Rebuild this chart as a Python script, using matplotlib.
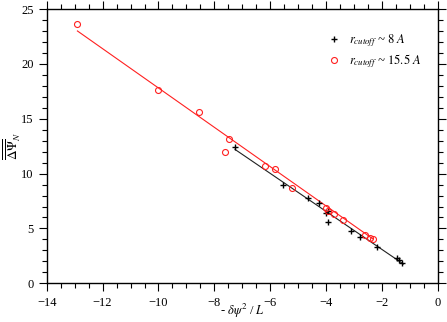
import matplotlib
matplotlib.use("Agg")
import matplotlib.pyplot as plt
from matplotlib.ticker import MultipleLocator

plt.rcParams['font.family'] = ['Liberation Serif', 'DejaVu Serif']
plt.rcParams['mathtext.fontset'] = 'stix'

# Data: r_cutoff ~ 8 A (black crosses)
black_x = [-7.25, -5.53, -4.66, -4.26, -4.01, -3.95, -3.92, -3.10, -2.78, -2.17, -1.46, -1.40, -1.28]
black_y = [12.45, 8.99, 7.75, 7.30, 6.40, 6.55, 5.60, 4.81, 4.25, 3.29, 2.28, 2.15, 1.88]
# Data: r_cutoff ~ 15.5 A (red circles)
red_x = [-12.91, -10.00, -8.56, -7.48, -7.62, -6.20, -5.83, -5.24, -4.01, -3.95, -3.71, -3.41, -2.60, -2.43, -2.31]
red_y = [23.63, 17.59, 15.58, 13.18, 11.97, 10.72, 10.39, 8.66, 6.83, 6.62, 6.29, 5.80, 4.40, 4.13, 4.07]
# Linear fit lines (endpoints)
black_fit_x = [-7.26, -1.24]
black_fit_y = [12.20, 1.76]
red_fit_x = [-12.90, -2.33]
red_fit_y = [23.00, 4.05]

labels = [r'$r_{cutoff}$ ~ $8\ A$', r'$r_{cutoff}$ ~ $15.5\ A$']

fig = plt.figure(figsize=(4.47, 3.22), dpi=100)
ax = fig.add_axes([0.1044, 0.1201, 0.8755, 0.8519])

ax.plot(red_fit_x, red_fit_y, color='#ff2020', lw=0.8)
ax.plot(black_fit_x, black_fit_y, color='#202020', lw=0.8)
ax.plot(black_x, black_y, ls='none', marker='+', ms=5, mew=1.0, color='black', label=labels[0])
ax.plot(red_x, red_y, ls='none', marker='o', ms=4.3, mew=0.8, mfc='none', mec='#ff2020', label=labels[1])

ax.set_xlim(-14, 0)
ax.set_ylim(0, 25)
ax.xaxis.set_major_locator(MultipleLocator(2))
ax.xaxis.set_minor_locator(MultipleLocator(0.5))
ax.yaxis.set_major_locator(MultipleLocator(5))
ax.yaxis.set_minor_locator(MultipleLocator(1))
ax.tick_params(which='both', direction='out', top=True, right=True, labelsize=9, width=0.8)
ax.tick_params(which='major', length=6)
ax.tick_params(which='minor', length=3.5)
for s in ax.spines.values():
    s.set_linewidth(1.0)

ax.set_xlabel(r'- $\delta\psi^2$ / $L$', fontsize=9)
ax.xaxis.set_label_coords(0.5, -0.068)
ax.set_ylabel(r'$\overline{\overline{\Delta\Psi}}_N$', fontsize=9.5)
ax.yaxis.set_label_coords(-0.061, 0.5)

leg = ax.legend(loc='upper left', bbox_to_anchor=(0.69, 0.955), frameon=False,
                handlelength=1.0, handletextpad=0.7, labelspacing=0.25,
                prop={'style': 'italic', 'size': 9})

fig.savefig('out.png', dpi=100)
